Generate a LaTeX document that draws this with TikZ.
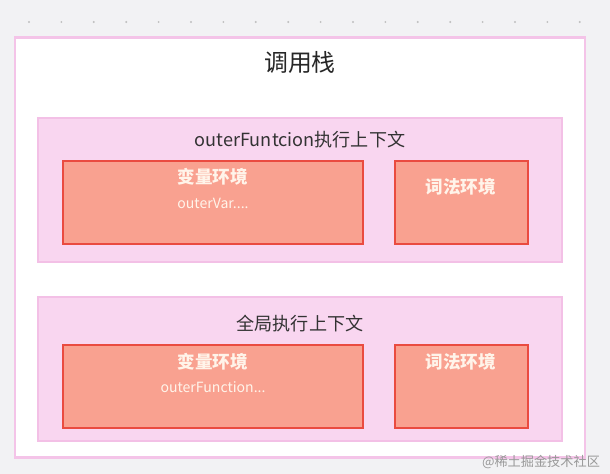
\documentclass[tikz,border=0pt]{standalone}
\usepackage{fontspec}
\setmainfont{Noto Sans CJK SC}
\usetikzlibrary{positioning}

\definecolor{bggray}{HTML}{F2F2F4}
\definecolor{stackline}{HTML}{F4C4E8}
\definecolor{ctxfill}{HTML}{F9D6F0}
\definecolor{ctxline}{HTML}{F3C0E6}
\definecolor{envfill}{HTML}{F9A190}
\definecolor{envline}{HTML}{EA4B40}
\definecolor{envtext}{HTML}{FFF4EA}

\tikzset{
	ctxbox/.style={draw=ctxline, fill=ctxfill, line width=1.2pt, minimum width=10.48cm, minimum height=2.88cm},
	ctxtitle/.style={font=\fontsize{10.3}{12}\selectfont, text=black!80},
	envbox/.style={draw=envline, fill=envfill, line width=1.4pt, minimum height=1.66cm},
	envtitle/.style={text=envtext, font=\fontsize{10}{12}\selectfont\bfseries},
	envsub/.style={text=envtext, font=\fontsize{8}{9}\selectfont}
}

\begin{document}
\begin{tikzpicture}[x=0.02cm, y=-0.02cm]
		% background and dotted ruler
		\fill[bggray] (0,0) rectangle (610,474);
		\useasboundingbox (0,0) rectangle (610,474);
		\foreach \i in {0,...,17} {
			\fill[black!25] (29+\i*32.4,22) circle (0.6pt);
		}
		% call stack
		\node[draw=stackline, fill=white, line width=1.3pt, minimum width=11.4cm, minimum height=8.4cm] (stack) at (300,247.5) {};
		\node[font=\fontsize{13.6}{16}\selectfont, text=black!85] (stacktitle) at (300,62) {调用栈};
		% outerFuntcion context
		\node[ctxbox] (outerctx) at (300,190) {};
		\node[ctxtitle] (outertitle) at (300,140) {outerFuntcion执行上下文};
		\node[envbox, minimum width=6cm] (outervar) at (213,202.5) {};
		\node[envtitle] (outervartitle) at (213,177) {变量环境};
		\node[envsub] (outervarsub) at (213,203) {outerVar....};
		\node[envbox, minimum width=2.66cm] (outerlex) at (461.5,202.5) {};
		\node[envtitle] (outerlextitle) at (461,187) {词法环境};
		% global context
		\node[ctxbox] (globalctx) at (300,369) {};
		\node[ctxtitle] (globaltitle) at (300,324) {全局执行上下文};
		\node[envbox, minimum width=6cm] (globalvar) at (213,386.5) {};
		\node[envtitle] (globalvartitle) at (213,362) {变量环境};
		\node[envsub] (globalvarsub) at (213,387) {outerFunction...};
		\node[envbox, minimum width=2.66cm] (globallex) at (461.5,386.5) {};
		\node[envtitle] (globallextitle) at (461,362) {词法环境};
		% watermark
		\node[font=\fontsize{7.5}{9}\selectfont, text=black!40] (mark) at (541,462) {@稀土掘金技术社区};
	\end{tikzpicture}
\end{document}
